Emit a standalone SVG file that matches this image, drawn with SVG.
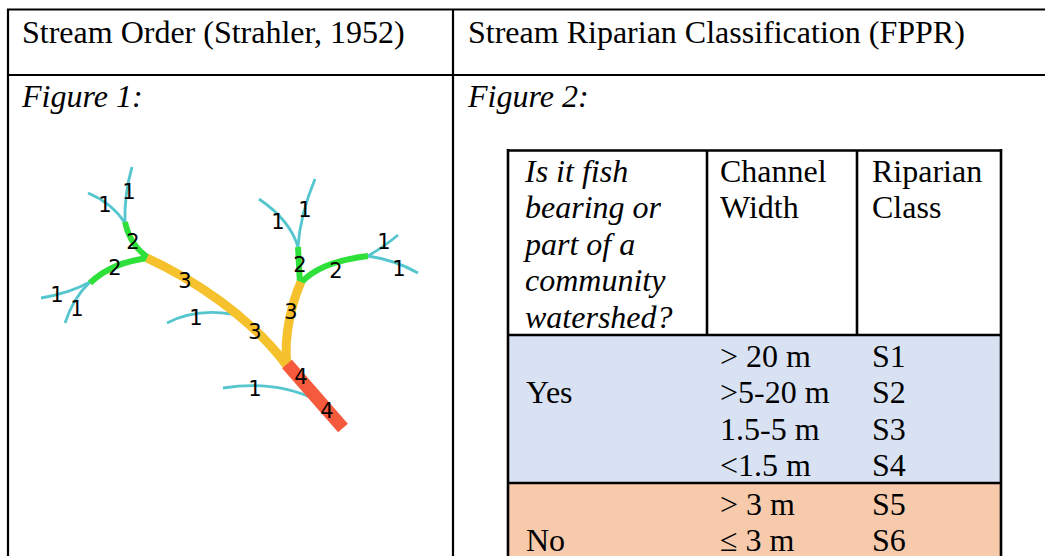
<svg xmlns="http://www.w3.org/2000/svg" width="1045" height="556" viewBox="0 0 1045 556">
  <style>
    .rule { stroke: #000; stroke-width: 2.2; fill: none; }
    .t { font-family: "Liberation Serif", "Times New Roman", serif; font-size: 32px; fill: #000; }
    .it { font-style: italic; }
    .s1 { stroke: #55C6CE; stroke-width: 2.8; fill: none; stroke-linecap: butt; }
    .s2 { stroke: #2FE03B; stroke-width: 6; fill: none; }
    .s3 { stroke: #F5C12C; stroke-width: 9; fill: none; }
    .s4 { stroke: #F55A3C; stroke-width: 13; fill: none; }
    .n { font-family: "DejaVu Sans", sans-serif; font-size: 21px; fill: #000; text-anchor: middle; dominant-baseline: central; }
  </style>

  <!-- outer two-column table -->
  <g id="outer-table">
    <line class="rule" x1="7" y1="9.5" x2="1045" y2="9.5"/>
    <line class="rule" x1="8" y1="9" x2="8" y2="556"/>
    <line class="rule" x1="453" y1="9" x2="453" y2="556"/>
    <line class="rule" x1="7" y1="75" x2="1045" y2="75"/>
    <text class="t" x="22" y="43">Stream Order (Strahler, 1952)</text>
    <text class="t" x="468" y="43">Stream Riparian Classification (FPPR)</text>
    <text class="t it" x="22" y="107">Figure 1:</text>
    <text class="t it" x="468" y="107">Figure 2:</text>
  </g>

  <!-- Figure 1: Strahler stream order network -->
  <g id="stream-network">
    <g id="order-1">
      <path class="s1" d="M132,167 Q124,195 125,223"/>
      <path class="s1" d="M88,193 Q112,203 125,223"/>
      <path class="s1" d="M41,298 Q70,293 90,282"/>
      <path class="s1" d="M65,323 Q73,298 90,282"/>
      <path class="s1" d="M167,323 Q195,308 232,314"/>
      <path class="s1" d="M315,179 Q300,215 298,247"/>
      <path class="s1" d="M259,199 Q290,220 298,247"/>
      <path class="s1" d="M368,256 Q385,246 398,235"/>
      <path class="s1" d="M368,256 Q395,260 418,273"/>
      <path class="s1" d="M223,388 Q275,380 314,399"/>
    </g>
    <g id="order-2">
      <path class="s2" d="M125,222 Q130,246 149,258"/>
      <path class="s2" d="M90,283 Q112,262 149,258"/>
      <path class="s2" d="M298,247 L300,284"/>
      <path class="s2" d="M300,284 Q318,262 368,256"/>
    </g>
    <g id="order-3">
      <path class="s3" d="M147,258 C190,278 250,315 288,367"/>
      <path class="s3" d="M301,282 C293,300 283,335 287,366"/>
    </g>
    <g id="order-4">
      <path class="s4" d="M287,364 L343,428"/>
    </g>
    <g id="order-labels">
      <text class="n" x="129" y="192">1</text>
      <text class="n" x="105" y="205">1</text>
      <text class="n" x="133" y="242">2</text>
      <text class="n" x="115" y="268">2</text>
      <text class="n" x="57" y="295">1</text>
      <text class="n" x="77" y="309">1</text>
      <text class="n" x="185" y="281">3</text>
      <text class="n" x="196" y="318">1</text>
      <text class="n" x="255" y="332">3</text>
      <text class="n" x="305" y="210">1</text>
      <text class="n" x="278" y="222">1</text>
      <text class="n" x="300" y="265">2</text>
      <text class="n" x="336" y="271">2</text>
      <text class="n" x="384" y="242">1</text>
      <text class="n" x="399" y="269">1</text>
      <text class="n" x="291" y="312">3</text>
      <text class="n" x="301" y="377">4</text>
      <text class="n" x="327" y="411">4</text>
      <text class="n" x="255" y="389">1</text>
    </g>
  </g>

  <!-- Figure 2: riparian class table -->
  <g id="riparian-table">
    <rect x="508" y="335" width="493" height="148" fill="#D9E2F3"/>
    <rect x="508" y="483" width="493" height="80" fill="#F7CAAC"/>
    <line class="rule" x1="508" y1="150.5" x2="1001" y2="150.5" style="stroke-width:2.6"/>
    <line class="rule" x1="508" y1="149" x2="508" y2="556" style="stroke-width:2.6"/>
    <line class="rule" x1="1001" y1="149" x2="1001" y2="556" style="stroke-width:2.6"/>
    <line class="rule" x1="707" y1="150" x2="707" y2="335" style="stroke-width:2.6"/>
    <line class="rule" x1="857" y1="150" x2="857" y2="335" style="stroke-width:2.6"/>
    <line class="rule" x1="508" y1="335" x2="1001" y2="335" style="stroke-width:2.6"/>
    <line class="rule" x1="508" y1="483" x2="1001" y2="483" style="stroke-width:2.6"/>

    <g id="header-question">
      <text class="t it" x="525" y="182">Is it fish</text>
      <text class="t it" x="525" y="218">bearing or</text>
      <text class="t it" x="525" y="255">part of a</text>
      <text class="t it" x="525" y="291">community</text>
      <text class="t it" x="525" y="328">watershed?</text>
    </g>
    <g id="header-width">
      <text class="t" x="720" y="182">Channel</text>
      <text class="t" x="720" y="218">Width</text>
    </g>
    <g id="header-class">
      <text class="t" x="872" y="182">Riparian</text>
      <text class="t" x="872" y="218">Class</text>
    </g>

    <g id="row-yes">
      <text class="t" x="526" y="403">Yes</text>
      <text class="t" x="720" y="367">&gt; 20 m</text>
      <text class="t" x="720" y="403">&gt;5-20 m</text>
      <text class="t" x="720" y="440">1.5-5 m</text>
      <text class="t" x="720" y="476">&lt;1.5 m</text>
      <text class="t" x="872" y="367">S1</text>
      <text class="t" x="872" y="403">S2</text>
      <text class="t" x="872" y="440">S3</text>
      <text class="t" x="872" y="476">S4</text>
    </g>
    <g id="row-no">
      <text class="t" x="526" y="551">No</text>
      <text class="t" x="720" y="515">&gt; 3 m</text>
      <text class="t" x="720" y="551">≤ 3 m</text>
      <text class="t" x="872" y="515">S5</text>
      <text class="t" x="872" y="551">S6</text>
    </g>
  </g>
</svg>
